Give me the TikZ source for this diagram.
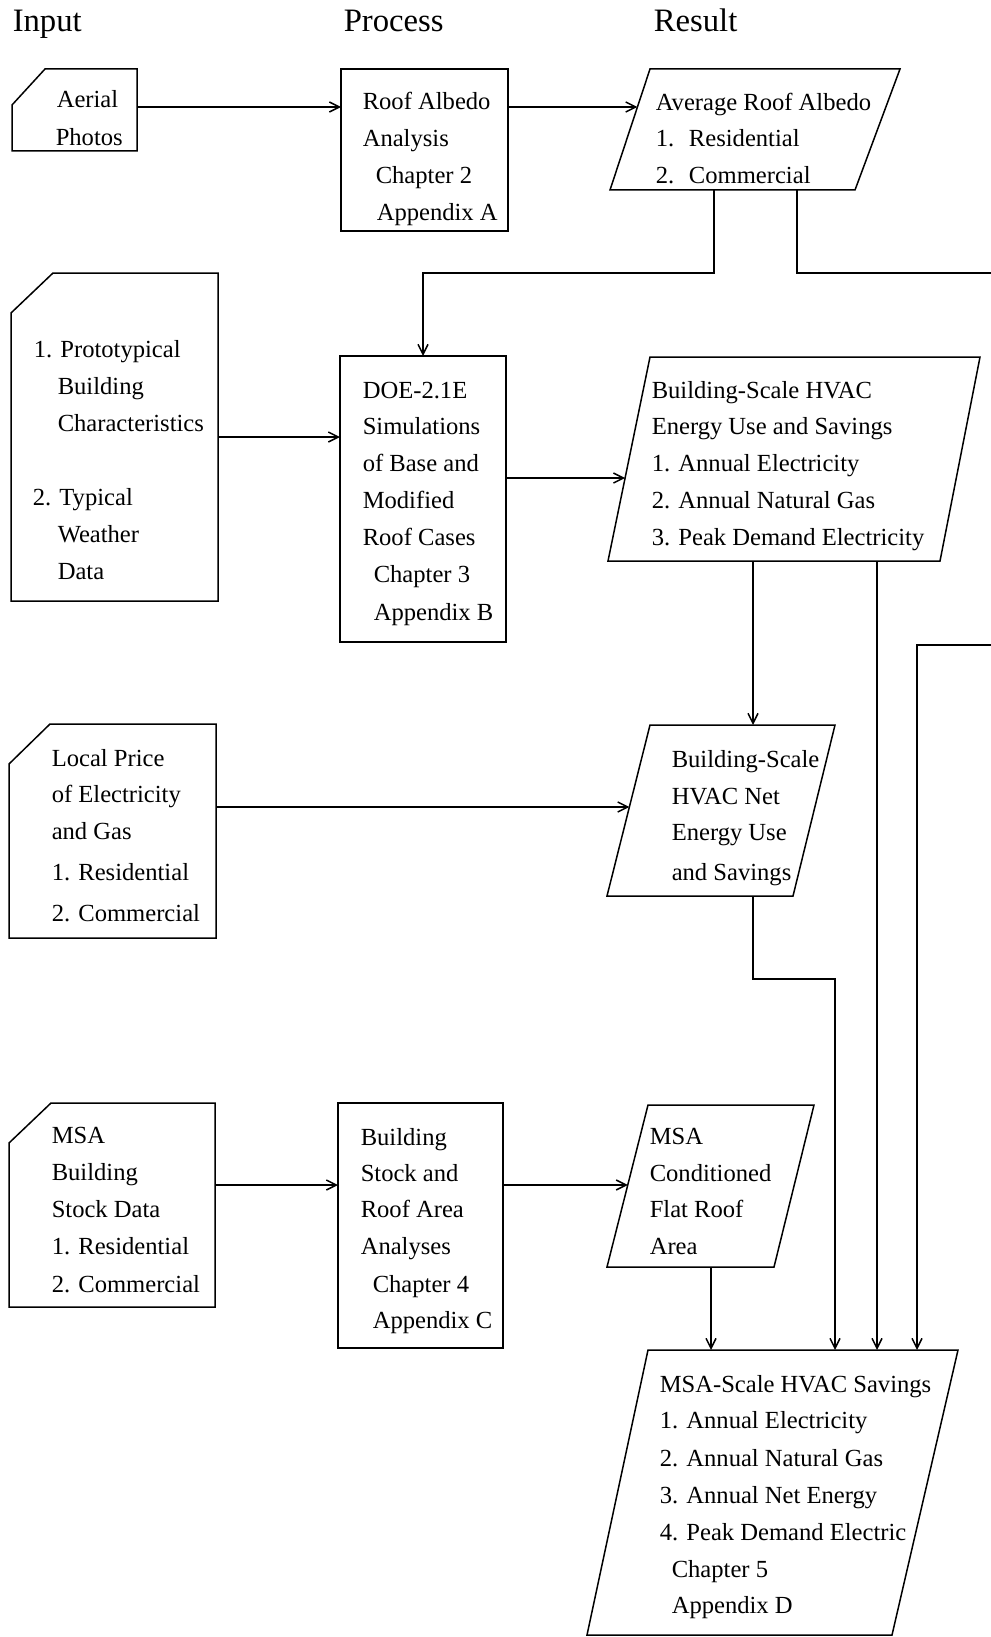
\documentclass[tikz,border=0pt]{standalone}
\usepackage{fontspec}
\setmainfont{Liberation Serif}
\usetikzlibrary{arrows.meta,calc}
\newcommand\txl[4]{\node[txt] (#1) at (#2,#3) {#4};}
\newcommand\docshape[3]{\draw[shp] (#1.south west) -- ($(#1.north west)+(0,#3)$) -- ($(#1.north west)+(#2,0)$) -- (#1.north east) -- (#1.south east) -- cycle;}
\newcommand\paral[3]{\draw[shp] ($(#1.north west)+(#2,0)$) -- (#1.north east) -- ($(#1.south east)+(-#3,0)$) -- (#1.south west) -- cycle;}
\begin{document}
\begin{tikzpicture}[x=1pt,y=-1pt,
  line width=1.5pt,
  frame/.style={draw=none, inner sep=0pt, outer sep=0pt},
  rbox/.style={draw, inner sep=0pt, outer sep=0pt},
  shp/.style={draw, line join=miter},
  arr/.style={-{Straight Barb[length=10pt,width=10pt]}},
  txt/.style={anchor=base west, inner sep=0pt, font=\fontsize{24.6}{30}\selectfont},
  hdr/.style={anchor=base west, inner sep=0pt, font=\fontsize{32.7}{40}\selectfont}]
\useasboundingbox (0,0) rectangle (990,1637);

% headers
\node[hdr] (hIn) at (12,32) {Input};
\node[hdr] (hPr) at (343,32) {Process};
\node[hdr] (hRe) at (653,32) {Result};

% frames
\node[frame, minimum width=125pt, minimum height=82pt] (aerial) at (74.5,110) {};
\node[rbox, minimum width=167pt, minimum height=162pt] (roof) at (424.5,150) {};
\node[frame, minimum width=290pt, minimum height=121pt] (avg) at (755,129.5) {};
\node[frame, minimum width=207pt, minimum height=328pt] (doc2) at (114.5,437) {};
\node[rbox, minimum width=166pt, minimum height=286pt] (doe) at (423,499) {};
\node[frame, minimum width=372pt, minimum height=204pt] (hvac) at (794,459) {};
\node[frame, minimum width=207pt, minimum height=214pt] (local) at (112.5,831) {};
\node[frame, minimum width=228pt, minimum height=171pt] (net) at (721,810.5) {};
\node[frame, minimum width=206pt, minimum height=204pt] (msadoc) at (112,1205) {};
\node[rbox, minimum width=165pt, minimum height=245pt] (stock) at (420.5,1225.5) {};
\node[frame, minimum width=207pt, minimum height=162pt] (cond) at (710.5,1186) {};
\node[frame, minimum width=371pt, minimum height=285pt] (final) at (772.5,1492.5) {};

% outlines
\docshape{aerial}{33}{36}
\docshape{doc2}{42}{40}
\docshape{local}{41}{40}
\docshape{msadoc}{42}{40}
\paral{avg}{40}{45}
\paral{hvac}{42}{40}
\paral{net}{43}{42}
\paral{cond}{41}{40}
\paral{final}{61}{66}

% texts
\txl{a1}{56}{108}{Aerial}
\txl{a2}{55}{146}{Photos}
\txl{r1}{362}{110}{Roof Albedo}
\txl{r2}{362}{147}{Analysis}
\txl{r3}{375}{184}{Chapter 2}
\txl{r4}{376}{221}{Appendix A}
\txl{v1}{655}{111}{Average Roof Albedo}
\txl{v2}{655}{147}{1.\hspace{0.6em}Residential}
\txl{v3}{655}{184}{2.\hspace{0.6em}Commercial}

\txl{p1}{33}{357}{1. Prototypical}
\txl{p2}{57}{394}{Building}
\txl{p3}{57}{431}{Characteristics}
\txl{p4}{32}{505}{2. Typical}
\txl{p5}{57}{542}{Weather}
\txl{p6}{57}{579}{Data}
\txl{d1}{362}{398}{DOE-2.1E}
\txl{d2}{362}{434}{Simulations}
\txl{d3}{362}{471}{of Base and}
\txl{d4}{362}{508}{Modified}
\txl{d5}{362}{545}{Roof Cases}
\txl{d6}{373}{582}{Chapter 3}
\txl{d7}{373}{620}{Appendix B}
\txl{e1}{651}{398}{Building-Scale HVAC}
\txl{e2}{651}{434}{Energy Use and Savings}
\txl{e3}{651}{471}{1. Annual Electricity}
\txl{e4}{651}{508}{2. Annual Natural Gas}
\txl{e5}{651}{545}{3. Peak Demand Electricity}

\txl{l1}{51}{766}{Local Price}
\txl{l2}{51}{802}{of Electricity}
\txl{l3}{51}{839}{and Gas}
\txl{l4}{51}{880}{1. Residential}
\txl{l5}{51}{921}{2. Commercial}
\txl{n1}{671}{767}{Building-Scale}
\txl{n2}{671}{804}{HVAC Net}
\txl{n3}{671}{840}{Energy Use}
\txl{n4}{671}{880}{and Savings}

\txl{m1}{51}{1143}{MSA}
\txl{m2}{51}{1180}{Building}
\txl{m3}{51}{1217}{Stock Data}
\txl{m4}{51}{1254}{1. Residential}
\txl{m5}{51}{1292}{2. Commercial}
\txl{s1}{360}{1145}{Building}
\txl{s2}{360}{1181}{Stock and}
\txl{s3}{360}{1217}{Roof Area}
\txl{s4}{360}{1254}{Analyses}
\txl{s5}{372}{1292}{Chapter 4}
\txl{s6}{372}{1328}{Appendix C}
\txl{k1}{649}{1144}{MSA}
\txl{k2}{649}{1181}{Conditioned}
\txl{k3}{649}{1217}{Flat Roof}
\txl{k4}{649}{1254}{Area}

\txl{f1}{659}{1392}{MSA-Scale HVAC Savings}
\txl{f2}{659}{1428}{1. Annual Electricity}
\txl{f3}{659}{1466}{2. Annual Natural Gas}
\txl{f4}{659}{1503}{3. Annual Net Energy}
\txl{f5}{659}{1540}{4. Peak Demand Electric}
\txl{f6}{671}{1577}{Chapter 5}
\txl{f7}{671}{1613}{Appendix D}

% connector helper points
\coordinate (avgIn) at (637.4,107);
\coordinate (hvacIn) at (625.1,478);
\coordinate (netIn) at (629.4,807);
\coordinate (condIn) at (627.8,1185);
\coordinate (c1) at (714,273);
\coordinate (c2) at (797,273);
\coordinate (c3) at (1000,645);
\coordinate (c4) at (917,645);
\coordinate (c5) at (753,700);
\coordinate (c6) at (877,700);
\coordinate (c7) at (753,979);
\coordinate (c8) at (835,979);
\coordinate (c9) at (711,1300);

% connectors
\draw[arr] (aerial.east |- avgIn) -- (roof.west |- avgIn);
\draw[arr] (roof.east |- avgIn) -- (avgIn);
\draw[arr] (avg.south -| c1) -- (c1) -| (doe.north);
\draw[arr] (avg.south -| c2) -- (c2) -- (c2 -| c3) -- (c3) -- (c4) -- (c4 |- final.north);
\draw[arr] (doc2.east) -- (doe.west |- doc2.east);
\draw[arr] (doe.east |- hvacIn) -- (hvacIn);
\draw[arr] (hvac.south -| c5) -- (net.north -| c5);
\draw[arr] (hvac.south -| c6) -- (final.north -| c6);
\draw[arr] (local.east |- netIn) -- (netIn);
\draw[arr] (net.south -| c7) -- (c7) -- (c8) -- (final.north -| c8);
\draw[arr] (msadoc.east |- condIn) -- (stock.west |- condIn);
\draw[arr] (stock.east |- condIn) -- (condIn);
\draw[arr] (cond.south -| c9) -- (final.north -| c9);
\end{tikzpicture}
\end{document}
